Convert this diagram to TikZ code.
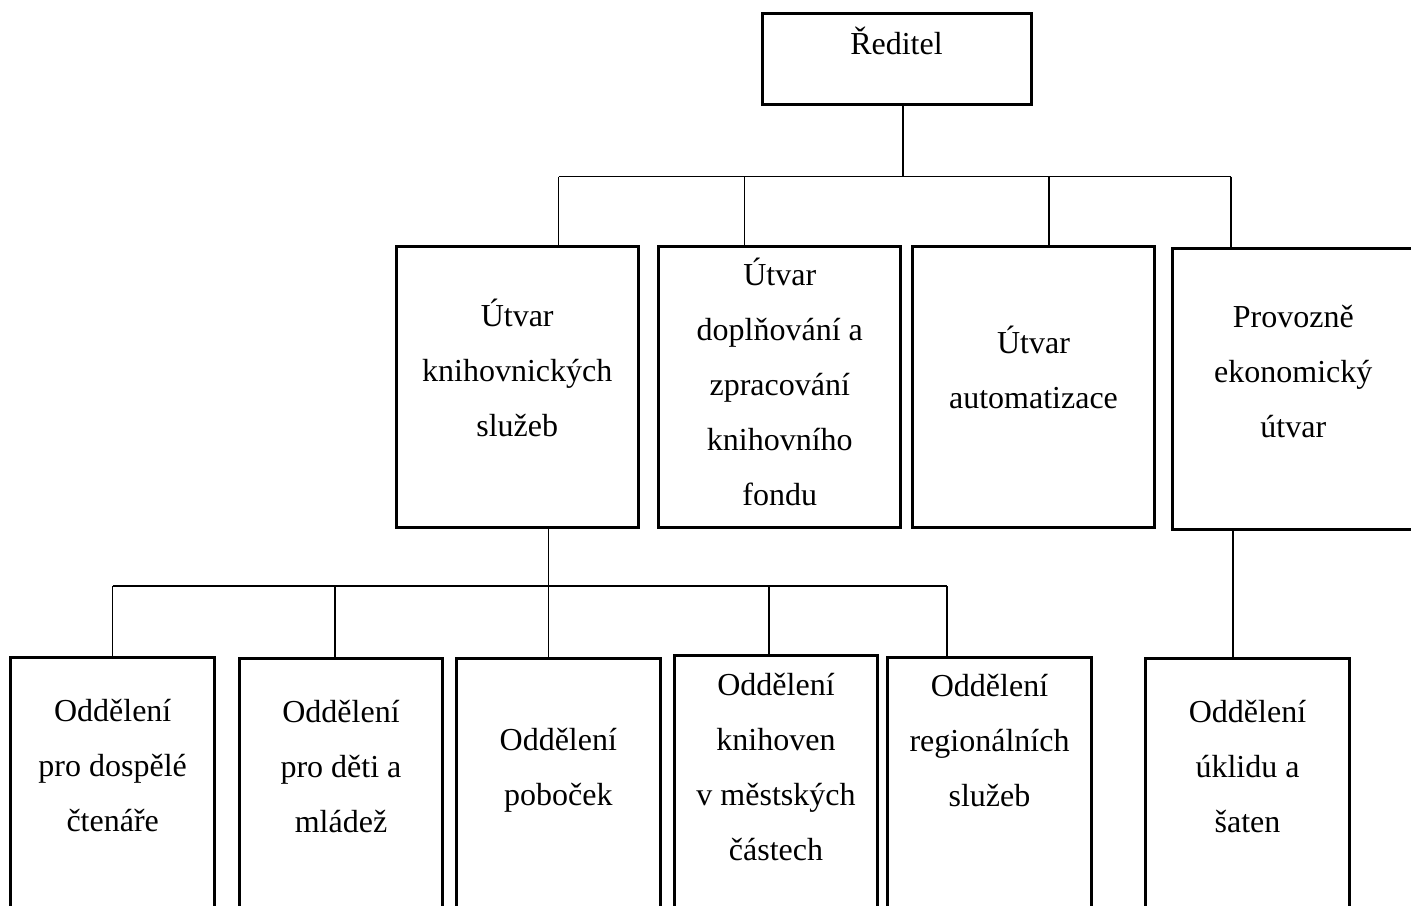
\documentclass[tikz,border=0pt]{standalone}
\usepackage{fontspec}
\setmainfont{Liberation Serif}
\newcommand{\ls}{\rule[-20.5pt]{0pt}{55pt}}

\begin{document}
\begin{tikzpicture}[x=1pt, y=-1pt,
    box/.style={draw, line width=3pt, outer sep=0pt, inner sep=0pt},
    unit/.style={box, minimum width=242pt, minimum height=281pt},
    dept/.style={box, minimum width=203.5pt, minimum height=272pt, anchor=north},
    lbl/.style={inner sep=0pt, align=center, font=\fontsize{32}{55}\selectfont},
    link/.style={line width=1.3pt}]
      \useasboundingbox (0,0) rectangle (1411,905);
      \clip (0,0) rectangle (1411,905);
      %nodes
      \node[box, minimum width=269pt, minimum height=90.5pt] (dir) at (896.5, 59.2) {};
      \node[lbl] (dirt) at (896.5, 47) {\ls Ředitel};
      \node[unit] (ks) at (517.2, 387) {};
      \node[lbl] (kst) at (517.2, 374) {\ls Útvar\\\ls knihovnických\\\ls služeb};
      \node[unit] (dz) at (779.8, 387) {};
      \node[lbl] (dzt) at (779.8, 388.5) {\ls Útvar\\\ls doplňování a\\\ls zpracování\\\ls knihovního\\\ls fondu};
      \node[unit] (au) at (1033.5, 387) {};
      \node[lbl] (aut) at (1033.5, 373.5) {\ls Útvar\\\ls automatizace};
      \node[unit, minimum width=256pt] (pe) at (1300.5, 389) {};
      \node[lbl] (pet) at (1293.3, 375) {\ls Provozně\\\ls ekonomický\\\ls útvar};
      \node[dept] (od) at (112.7, 657.5) {};
      \node[lbl] (odt) at (112.7, 769.5) {\ls Oddělení\\\ls pro dospělé\\\ls čtenáře};
      \node[dept] (dm) at (341, 658) {};
      \node[lbl] (dmt) at (341, 770) {\ls Oddělení\\\ls pro děti a\\\ls mládež};
      \node[dept] (pb) at (558.3, 658.5) {};
      \node[lbl] (pbt) at (558.3, 770.5) {\ls Oddělení\\\ls poboček};
      \node[dept] (mc) at (776, 655.5) {};
      \node[lbl] (mct) at (776, 771) {\ls Oddělení\\\ls knihoven\\\ls v městských\\\ls částech};
      \node[dept] (rs) at (989.5, 657.5) {};
      \node[lbl] (rst) at (989.5, 744) {\ls Oddělení\\\ls regionálních\\\ls služeb};
      \node[dept] (us) at (1247.5, 658.5) {};
      \node[lbl] (ust) at (1247.5, 770) {\ls Oddělení\\\ls úklidu a\\\ls šaten};
      %junctions
      \coordinate (j0) at (903, 176.7);
      \coordinate (j1) at (558.5, 176.7);
      \coordinate (j2) at (744.5, 176.7);
      \coordinate (j3) at (1049, 176.7);
      \coordinate (j4) at (1231, 176.7);
      \coordinate (k1) at (112.5, 586);
      \coordinate (k2) at (335, 586);
      \coordinate (k3) at (548.5, 586);
      \coordinate (k4) at (769, 586);
      \coordinate (k5) at (947, 586);
      \coordinate (k6) at (1233, 586);
      %edges
      \draw[link] (dir.south -| j0) -- (j0);
      \draw[link] (j1) -- (j4);
      \draw[link] (j1) -- (j1 |- ks.north);
      \draw[link] (j2) -- (j2 |- dz.north);
      \draw[link] (j3) -- (j3 |- au.north);
      \draw[link] (j4) -- (j4 |- pe.north);
      \draw[link] (k1) -- (k5);
      \draw[link] (ks.south -| k3) -- (k3 |- pb.north);
      \draw[link] (k1) -- (k1 |- od.north);
      \draw[link] (k2) -- (k2 |- dm.north);
      \draw[link] (k4) -- (k4 |- mc.north);
      \draw[link] (k5) -- (k5 |- rs.north);
      \draw[link] (pe.south -| k6) -- (k6 |- us.north);
\end{tikzpicture}
\end{document}
